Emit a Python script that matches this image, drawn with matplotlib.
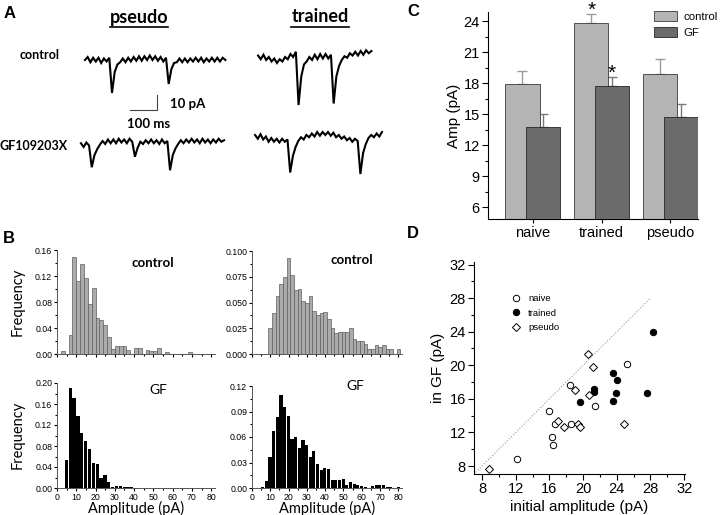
"""Multi-panel mEPSC figure: raw traces, amplitude histograms, bar summary and scatter."""

import numpy as np
import matplotlib
matplotlib.use("Agg")
import matplotlib.pyplot as plt
from matplotlib.lines import Line2D
from matplotlib.patches import Patch
from matplotlib.ticker import MultipleLocator

W, H = 720, 515
CAL = "Lato"          # stand-in for Calibri
ARIAL = "Liberation Sans"

# ---- panel A: traces (pA relative to baseline, one sample every 10 ms) ----
DT_MS = 10
pseudo_ctrl_trace = [0, 2, -1.5, 1.5, -1, 1.5, -2, 1, -1, 1.5,
                     -22, -8, -3, -1.5, 1, -1.5, 1.5, -1, 2, -0.5, 2.5, -0.5, 2.5, 0, 3, 0,
                     2.5, -0.5, 2, -1, 1.5,
                     -16, -6, -2, -1.5, 1, -1.5, 1, -1.5, 1, -1, 1.5, -1, 1.5, -1.5, 1, -1,
                     1.5, -1, 1.5, -1, 1.5, 0]
trained_ctrl_trace = [1, -1.5, 1.5, -2, 0, -3, -1, -4, -1.5, -3, 0, -1.5, 2, 0, 3.5,
                      -32, -13, -5, -3, 0, -2, 1.5, -1.5, 2, -1, 2, -1, 1.5,
                      -31, -13, -6, -2, 0.5, -0.5, 2.5, 1, 3.5, 1, 4, 1.5, 4.5, 2.5, 4]
pseudo_gf_trace = [1, -1.5, 1.5, -0.5,
                   -15, -7, -3, 0, 2.5, 0.5, 3.5, 1, 3.5, 1, 4, 1.5, 3.5, 1, 4, 2,
                   -8, -2, 2, 0.5, 3, 1, 3.5, 1, 3, 0.5, 3.5, 1, 2.5,
                   -17, -7, -2.5, 0.5, 3, 1, 3.5, 1.5, 4, 1.5, 3.5, 1, 4, 1.5, 3.5, 1,
                   3.5, 1.5, 4, 2, 3]
trained_gf_trace = [3, 0.5, 3.5, 0, 2, -1.5, 1, -1.5, 0.5, -2, 0.5, -1.5, 0,
                    -22, -11, -5, -1, 1.5, 0, 3, 1.5, 4, 2, 5, 2.5, 5, 3, 5, 2.5, 4.5, 1.5,
                    3, 0.5, 2, -0.5, 1, -1.5, 0.5, -1,
                    -23, -9, -3, 1, 3, 1.5, 4, 2, 5]
SCALE_MS, SCALE_PA = 100, 10

# ---- panel B: amplitude histograms (2 pA bins, first left edge given) ----
BIN_W = 2
pseudo_ctrl_start = 2
pseudo_ctrl_freq = [0.004, 0, 0.030, 0.149, 0.113, 0.139, 0.117, 0.077, 0.102, 0.055, 0.052,
                    0.044, 0.026, 0.007, 0.012, 0.012, 0.012, 0.006, 0, 0.009, 0.009, 0,
                    0.006, 0.004, 0.004, 0.009, 0, 0.003, 0, 0, 0, 0, 0, 0.003]
trained_ctrl_start = 9
trained_ctrl_freq = [0.025, 0.040, 0.056, 0.068, 0.075, 0.093, 0.077, 0.062, 0.063, 0.051,
                     0.050, 0.056, 0.042, 0.038, 0.040, 0.041, 0.034, 0.025, 0.020, 0.021,
                     0.021, 0.021, 0.025, 0.015, 0.013, 0.013, 0.010, 0.005, 0.005, 0.009,
                     0.007, 0.009, 0.005, 0.005, 0.0, 0.005]
pseudo_gf_start = 4
pseudo_gf_freq = [0.054, 0.190, 0.171, 0.137, 0.105, 0.090, 0.075, 0.047, 0.045, 0.020,
                  0.024, 0.011, 0.002, 0.004, 0.004, 0.002, 0.002, 0.002]
trained_gf_start = 5
trained_gf_freq = [0.001, 0.008, 0.036, 0.067, 0.084, 0.110, 0.095, 0.085, 0.058, 0.060,
                   0.047, 0.057, 0.051, 0.036, 0.043, 0.028, 0.021, 0.023, 0.022, 0.009,
                   0.009, 0.009, 0.011, 0.003, 0.007, 0.005, 0.004, 0.002, 0.001, 0.0,
                   0.002, 0.004, 0.003, 0.003, 0.001, 0.001, 0.0, 0.001]

# ---- panel C: mean amplitude ----
groups = ["naive", "trained", "pseudo"]
amp_control = [17.9, 23.8, 18.9]
amp_control_err = [1.3, 0.9, 1.4]
amp_gf = [13.8, 17.7, 14.7]
amp_gf_err = [1.2, 0.9, 1.3]
significant_control = [False, True, False]
significant_gf = [False, True, False]

# ---- panel D: per-cell initial amplitude vs amplitude in GF ----
naive_x = [12.1, 15.9, 16.3, 16.4, 16.7, 18.4, 18.6, 21.4, 25.2]
naive_y = [8.8, 14.6, 11.5, 10.5, 13.0, 17.7, 13.0, 15.1, 20.1]
trained_x = [19.6, 21.3, 21.3, 23.5, 24.0, 23.9, 23.5, 27.6, 28.3]
trained_y = [15.6, 17.2, 16.8, 19.1, 18.2, 16.7, 15.8, 16.7, 24.0]
pseudo_x = [8.8, 17.0, 17.7, 19.1, 19.4, 19.6, 20.6, 20.7, 21.2, 24.9]
pseudo_y = [7.6, 13.4, 12.6, 17.1, 13.0, 12.6, 21.4, 16.5, 19.8, 13.0]
unity = [7, 28]


def px_axes(fig, x0, y0, x1, y1):
    return fig.add_axes([x0 / W, 1 - y1 / H, (x1 - x0) / W, (y1 - y0) / H])


def ftext(fig, x, y, s, **kw):
    return fig.text(x / W, 1 - y / H, s, **kw)


def style_axes(ax, size):
    for side in ("top", "right"):
        ax.spines[side].set_visible(False)
    ax.tick_params(which="both", direction="out", labelsize=size, width=0.8)


def hist_panel(ax, start, freq, face, edge, width, ymax, ystep, fmt, bottom_labels):
    left = start + BIN_W * np.arange(len(freq))
    ax.bar(left, freq, width=width, align="edge", color=face, edgecolor=edge, linewidth=0.5)
    ax.set_xlim(0, 82)
    ax.set_ylim(0, ymax)
    ax.set_xticks(range(0, 81, 10))
    ax.set_yticks(np.arange(0, ymax + 1e-9, ystep))
    ax.yaxis.set_minor_locator(MultipleLocator(ystep / 2))
    ax.xaxis.set_minor_locator(MultipleLocator(5))
    ax.yaxis.set_major_formatter(plt.FormatStrFormatter(fmt))
    style_axes(ax, 6.3)
    ax.tick_params(which="major", length=2.5, pad=1)
    ax.tick_params(which="minor", length=1.5)
    ax.tick_params(axis="x", labelbottom=bottom_labels)
    for sp in ax.spines.values():
        sp.set_linewidth(0.7)
        sp.set_color("#555555")


def main():
    plt.rcParams["font.family"] = ARIAL
    fig = plt.figure(figsize=(W / 100, H / 100), dpi=100)

    # panel letters
    for x, y, s in [(4, 13, "A"), (3, 239, "B"), (407, 12, "C"), (407, 233, "D")]:
        ftext(fig, x, y, s, fontsize=12, fontweight="bold", va="center")

    # ---------------- A ----------------
    ax = px_axes(fig, 75, 40, 390, 180)
    ax.set_xlim(0, 315 / 0.27)
    ax.set_ylim(0, 140 / 1.5)
    ax.axis("off")
    traces = [(pseudo_ctrl_trace, 37, 80), (trained_ctrl_trace, 678, 82),
              (pseudo_gf_trace, 22, 23.5), (trained_gf_trace, 667, 27)]
    for vals, t0, y0 in traces:
        t = t0 + DT_MS * np.arange(len(vals))
        ax.plot(t, y0 + np.asarray(vals), color="black", lw=1.5, solid_joinstyle="miter")
    sx, sy = 204, 46.7
    ax.plot([sx, sx + SCALE_MS, sx + SCALE_MS], [sy, sy, sy + SCALE_PA], color="#444444", lw=0.8)

    renderer = fig.canvas.get_renderer()
    for x, s in [(139, "pseudo"), (320, "trained")]:
        t = ftext(fig, x, 17, s, fontsize=13, fontweight="bold", family=CAL, ha="center", va="center")
        bb = t.get_window_extent(renderer)
        fig.add_artist(Line2D([bb.x0 / W, bb.x1 / W], [(bb.y0 - 1) / H] * 2, color="black", lw=1.2))
    ftext(fig, 40, 55, "control", fontsize=9, fontweight="bold", family=CAL, ha="center", va="center")
    ftext(fig, 0, 146, "GF109203X", fontsize=9, fontweight="bold", family=CAL, va="center")
    ftext(fig, 170, 104, "10 pA", fontsize=9.5, fontweight="bold", family=CAL, va="center")
    ftext(fig, 149, 124, "100 ms", fontsize=9.5, fontweight="bold", family=CAL, ha="center", va="center")

    # ---------------- B ----------------
    gray, gray_edge = "#ababab", "#5e5e5e"
    ax1 = px_axes(fig, 57, 250, 215, 354)
    hist_panel(ax1, pseudo_ctrl_start, pseudo_ctrl_freq, gray, gray_edge, BIN_W, 0.16, 0.04, "%.2f", False)
    ax2 = px_axes(fig, 252, 251, 402, 354)
    hist_panel(ax2, trained_ctrl_start, trained_ctrl_freq, gray, gray_edge, BIN_W, 0.10, 0.025, "%.3f", False)
    ax3 = px_axes(fig, 57, 383, 215, 488)
    hist_panel(ax3, pseudo_gf_start, pseudo_gf_freq, "black", "none", 1.7, 0.20, 0.04, "%.2f", True)
    ax4 = px_axes(fig, 252, 386, 402, 488)
    hist_panel(ax4, trained_gf_start, trained_gf_freq, "black", "none", 1.7, 0.12, 0.03, "%.2f", True)

    ftext(fig, 153, 263, "control", fontsize=9.5, fontweight="bold", family=CAL, ha="center", va="center")
    ftext(fig, 352, 260, "control", fontsize=9.5, fontweight="bold", family=CAL, ha="center", va="center")
    ftext(fig, 158, 390, "GF", fontsize=10, family=CAL, ha="center", va="center")
    ftext(fig, 355, 386, "GF", fontsize=10, family=CAL, ha="center", va="center")
    for y in (302, 435):
        ftext(fig, 18, y, "Frequency", fontsize=10.5, family=CAL, rotation=90, ha="center", va="center")
    for x in (136, 327):
        ftext(fig, x, 515.5, "Amplitude (pA)", fontsize=10.5, family=CAL, ha="center", va="bottom")

    # ---------------- C ----------------
    axc = px_axes(fig, 488, 12, 698, 219)
    xpos = np.arange(len(groups))
    off, bw = 0.15, 0.5
    axc.bar(xpos - off, amp_control, width=bw, color="#b4b4b4", edgecolor="#3a3a3a", linewidth=0.6, zorder=2)
    axc.bar(xpos + off, amp_gf, width=bw, color="#6b6b6b", edgecolor="#262626", linewidth=0.6, zorder=3)
    axc.errorbar(xpos - off, amp_control, yerr=[np.zeros(3), amp_control_err], fmt="none",
                 ecolor="#9a9a9a", elinewidth=1, capsize=3.5, zorder=1)
    axc.errorbar(xpos + off, amp_gf, yerr=[np.zeros(3), amp_gf_err], fmt="none",
                 ecolor="#7a7a7a", elinewidth=1, capsize=3.5, zorder=1)
    for i in range(len(groups)):
        if significant_control[i]:
            axc.text(i - off, amp_control[i] + amp_control_err[i] - 0.6, "*", fontsize=15,
                     ha="center", va="bottom")
        if significant_gf[i]:
            axc.text(i + off, amp_gf[i] + amp_gf_err[i] - 0.6, "*", fontsize=15,
                     ha="center", va="bottom")
    axc.set_xlim(-0.65, 2.4)
    axc.set_ylim(4.85, 24.9)
    axc.set_yticks(range(6, 25, 3))
    axc.yaxis.set_minor_locator(MultipleLocator(1.5))
    axc.set_xticks(xpos)
    axc.set_xticklabels(groups)
    style_axes(axc, 10.5)
    axc.tick_params(which="major", length=4, pad=2)
    axc.tick_params(which="minor", length=2.5)
    axc.tick_params(axis="x", length=3, labelsize=10.5, pad=2)
    axc.set_ylabel("Amp (pA)", fontsize=11, labelpad=2)
    handles = [Patch(facecolor="#b4b4b4", edgecolor="#3a3a3a", lw=0.6),
               Patch(facecolor="#6b6b6b", edgecolor="#262626", lw=0.6)]
    fig.legend(handles, ["control", "GF"], loc="upper left", bbox_to_anchor=(654 / W, 1 - 11 / H),
               frameon=False, fontsize=8.2, handlelength=2.0, handleheight=1.0,
               handletextpad=0.6, labelspacing=0.45, borderpad=0, borderaxespad=0)

    # ---------------- D ----------------
    axd = px_axes(fig, 474, 262, 685, 474)
    axd.plot(unity, unity, color="#9a9a9a", ls=":", lw=0.8)
    axd.plot(naive_x, naive_y, "o", mfc="white", mec="black", mew=0.7, ms=4.6, label="naive")
    axd.plot(trained_x, trained_y, "o", mfc="black", mec="black", mew=0.7, ms=4.6, label="trained")
    axd.plot(pseudo_x, pseudo_y, "D", mfc="white", mec="black", mew=0.7, ms=4.0, label="pseudo")
    axd.set_xlim(7.05, 32.1)
    axd.set_ylim(7.05, 32.3)
    axd.set_xticks(range(8, 33, 4))
    axd.set_yticks(range(8, 33, 4))
    axd.xaxis.set_minor_locator(MultipleLocator(2))
    axd.yaxis.set_minor_locator(MultipleLocator(2))
    style_axes(axd, 10.5)
    axd.tick_params(which="major", length=4, pad=2)
    axd.tick_params(which="minor", length=2.5)
    axd.set_xlabel("initial amplitude (pA)", fontsize=11, labelpad=3)
    axd.set_ylabel("in GF (pA)", fontsize=11, labelpad=3)
    axd.legend(loc="upper left", bbox_to_anchor=(511 / W, 1 - 294 / H), bbox_transform=fig.transFigure,
               frameon=False, fontsize=6.8, handlelength=1.0, handletextpad=0.8,
               labelspacing=0.6, borderpad=0, borderaxespad=0)

    fig.savefig("out.png", dpi=100)


if __name__ == "__main__":
    main()
